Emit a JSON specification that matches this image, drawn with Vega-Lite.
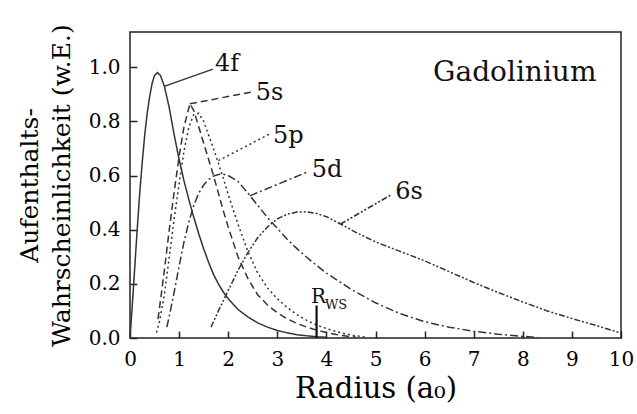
{
  "$schema": "https://vega.github.io/schema/vega-lite/v6.json",
  "width": 491,
  "height": 306,
  "autosize": {"type": "none"},
  "padding": {"left": 130, "top": 32, "right": 16, "bottom": 76},
  "background": "white",
  "config": {
    "font": "DejaVu Serif",
    "view": {"stroke": "#222", "strokeWidth": 1.5},
    "axis": {
      "domain": false, "offset": -7, "labelFlush": false,
      "tickColor": "#222", "tickWidth": 1.5, "tickSize": 7,
      "labelFont": "DejaVu Serif", "titleFont": "DejaVu Serif",
      "labelFontSize": 20, "grid": false, "titleFontWeight": "normal"
    }
  },
  "data": {"values": [
      {"s":"4f","g":"c","x":0,"y":0},{"s":"4f","g":"c","x":0.05,"y":0.13},{"s":"4f","g":"c","x":0.1,"y":0.27},{"s":"4f","g":"c","x":0.15,"y":0.41},{"s":"4f","g":"c","x":0.2,"y":0.54},{"s":"4f","g":"c","x":0.25,"y":0.65},{"s":"4f","g":"c","x":0.3,"y":0.75},{"s":"4f","g":"c","x":0.35,"y":0.83},{"s":"4f","g":"c","x":0.4,"y":0.89},{"s":"4f","g":"c","x":0.45,"y":0.94},{"s":"4f","g":"c","x":0.5,"y":0.97},{"s":"4f","g":"c","x":0.56,"y":0.98},{"s":"4f","g":"c","x":0.62,"y":0.97},{"s":"4f","g":"c","x":0.7,"y":0.93},{"s":"4f","g":"c","x":0.8,"y":0.85},{"s":"4f","g":"c","x":0.9,"y":0.75},{"s":"4f","g":"c","x":1.0,"y":0.66},{"s":"4f","g":"c","x":1.1,"y":0.58},{"s":"4f","g":"c","x":1.2,"y":0.51},{"s":"4f","g":"c","x":1.3,"y":0.445},{"s":"4f","g":"c","x":1.4,"y":0.385},{"s":"4f","g":"c","x":1.5,"y":0.33},{"s":"4f","g":"c","x":1.6,"y":0.28},{"s":"4f","g":"c","x":1.7,"y":0.235},{"s":"4f","g":"c","x":1.8,"y":0.2},{"s":"4f","g":"c","x":1.9,"y":0.17},{"s":"4f","g":"c","x":2.0,"y":0.145},{"s":"4f","g":"c","x":2.2,"y":0.105},{"s":"4f","g":"c","x":2.4,"y":0.078},{"s":"4f","g":"c","x":2.6,"y":0.056},{"s":"4f","g":"c","x":2.8,"y":0.04},{"s":"4f","g":"c","x":3.0,"y":0.028},{"s":"4f","g":"c","x":3.2,"y":0.019},{"s":"4f","g":"c","x":3.4,"y":0.012},{"s":"4f","g":"c","x":3.6,"y":0.008},{"s":"4f","g":"c","x":3.8,"y":0.005},{"s":"4f","g":"c","x":4.0,"y":0.003},
      {"s":"5s","g":"c","x":0.57,"y":0.07},{"s":"5s","g":"c","x":0.6,"y":0.11},{"s":"5s","g":"c","x":0.7,"y":0.25},{"s":"5s","g":"c","x":0.8,"y":0.4},{"s":"5s","g":"c","x":0.9,"y":0.54},{"s":"5s","g":"c","x":1.0,"y":0.67},{"s":"5s","g":"c","x":1.1,"y":0.78},{"s":"5s","g":"c","x":1.22,"y":0.865},{"s":"5s","g":"c","x":1.3,"y":0.84},{"s":"5s","g":"c","x":1.4,"y":0.78},{"s":"5s","g":"c","x":1.5,"y":0.72},{"s":"5s","g":"c","x":1.6,"y":0.66},{"s":"5s","g":"c","x":1.7,"y":0.6},{"s":"5s","g":"c","x":1.8,"y":0.535},{"s":"5s","g":"c","x":1.9,"y":0.47},{"s":"5s","g":"c","x":2.0,"y":0.41},{"s":"5s","g":"c","x":2.2,"y":0.3},{"s":"5s","g":"c","x":2.4,"y":0.22},{"s":"5s","g":"c","x":2.6,"y":0.16},{"s":"5s","g":"c","x":2.8,"y":0.122},{"s":"5s","g":"c","x":3.0,"y":0.093},{"s":"5s","g":"c","x":3.2,"y":0.071},{"s":"5s","g":"c","x":3.4,"y":0.054},{"s":"5s","g":"c","x":3.6,"y":0.04},{"s":"5s","g":"c","x":3.8,"y":0.029},{"s":"5s","g":"c","x":4.0,"y":0.02},{"s":"5s","g":"c","x":4.2,"y":0.013},{"s":"5s","g":"c","x":4.4,"y":0.007},{"s":"5s","g":"c","x":4.6,"y":0.003},
      {"s":"5p","g":"c","x":0.54,"y":0.02},{"s":"5p","g":"c","x":0.6,"y":0.06},{"s":"5p","g":"c","x":0.7,"y":0.16},{"s":"5p","g":"c","x":0.8,"y":0.3},{"s":"5p","g":"c","x":0.9,"y":0.44},{"s":"5p","g":"c","x":1.0,"y":0.57},{"s":"5p","g":"c","x":1.1,"y":0.69},{"s":"5p","g":"c","x":1.2,"y":0.78},{"s":"5p","g":"c","x":1.3,"y":0.825},{"s":"5p","g":"c","x":1.4,"y":0.83},{"s":"5p","g":"c","x":1.5,"y":0.8},{"s":"5p","g":"c","x":1.6,"y":0.75},{"s":"5p","g":"c","x":1.7,"y":0.7},{"s":"5p","g":"c","x":1.8,"y":0.645},{"s":"5p","g":"c","x":1.9,"y":0.59},{"s":"5p","g":"c","x":2.0,"y":0.53},{"s":"5p","g":"c","x":2.2,"y":0.42},{"s":"5p","g":"c","x":2.4,"y":0.32},{"s":"5p","g":"c","x":2.6,"y":0.24},{"s":"5p","g":"c","x":2.8,"y":0.185},{"s":"5p","g":"c","x":3.0,"y":0.145},{"s":"5p","g":"c","x":3.2,"y":0.113},{"s":"5p","g":"c","x":3.4,"y":0.086},{"s":"5p","g":"c","x":3.6,"y":0.065},{"s":"5p","g":"c","x":3.8,"y":0.048},{"s":"5p","g":"c","x":4.0,"y":0.035},{"s":"5p","g":"c","x":4.2,"y":0.024},{"s":"5p","g":"c","x":4.4,"y":0.015},{"s":"5p","g":"c","x":4.6,"y":0.008},{"s":"5p","g":"c","x":4.8,"y":0.003},
      {"s":"5d","g":"c","x":0.75,"y":0.04},{"s":"5d","g":"c","x":0.8,"y":0.08},{"s":"5d","g":"c","x":0.9,"y":0.17},{"s":"5d","g":"c","x":1.0,"y":0.265},{"s":"5d","g":"c","x":1.1,"y":0.355},{"s":"5d","g":"c","x":1.2,"y":0.43},{"s":"5d","g":"c","x":1.3,"y":0.49},{"s":"5d","g":"c","x":1.4,"y":0.535},{"s":"5d","g":"c","x":1.5,"y":0.565},{"s":"5d","g":"c","x":1.6,"y":0.585},{"s":"5d","g":"c","x":1.7,"y":0.598},{"s":"5d","g":"c","x":1.8,"y":0.604},{"s":"5d","g":"c","x":1.9,"y":0.605},{"s":"5d","g":"c","x":2.0,"y":0.6},{"s":"5d","g":"c","x":2.2,"y":0.578},{"s":"5d","g":"c","x":2.4,"y":0.535},{"s":"5d","g":"c","x":2.6,"y":0.49},{"s":"5d","g":"c","x":2.8,"y":0.445},{"s":"5d","g":"c","x":3.0,"y":0.405},{"s":"5d","g":"c","x":3.2,"y":0.365},{"s":"5d","g":"c","x":3.4,"y":0.33},{"s":"5d","g":"c","x":3.6,"y":0.298},{"s":"5d","g":"c","x":3.8,"y":0.268},{"s":"5d","g":"c","x":4.0,"y":0.24},{"s":"5d","g":"c","x":4.5,"y":0.18},{"s":"5d","g":"c","x":5.0,"y":0.13},{"s":"5d","g":"c","x":5.5,"y":0.09},{"s":"5d","g":"c","x":6.0,"y":0.06},{"s":"5d","g":"c","x":6.5,"y":0.04},{"s":"5d","g":"c","x":7.0,"y":0.025},{"s":"5d","g":"c","x":7.5,"y":0.014},{"s":"5d","g":"c","x":8.0,"y":0.006},{"s":"5d","g":"c","x":8.3,"y":0.002},
      {"s":"6s","g":"c","x":1.65,"y":0.04},{"s":"6s","g":"c","x":1.8,"y":0.1},{"s":"6s","g":"c","x":2.0,"y":0.175},{"s":"6s","g":"c","x":2.2,"y":0.25},{"s":"6s","g":"c","x":2.4,"y":0.315},{"s":"6s","g":"c","x":2.6,"y":0.37},{"s":"6s","g":"c","x":2.8,"y":0.41},{"s":"6s","g":"c","x":3.0,"y":0.44},{"s":"6s","g":"c","x":3.2,"y":0.457},{"s":"6s","g":"c","x":3.4,"y":0.465},{"s":"6s","g":"c","x":3.6,"y":0.466},{"s":"6s","g":"c","x":3.8,"y":0.46},{"s":"6s","g":"c","x":4.0,"y":0.448},{"s":"6s","g":"c","x":4.3,"y":0.42},{"s":"6s","g":"c","x":4.6,"y":0.39},{"s":"6s","g":"c","x":5.0,"y":0.355},{"s":"6s","g":"c","x":5.5,"y":0.32},{"s":"6s","g":"c","x":6.0,"y":0.285},{"s":"6s","g":"c","x":6.5,"y":0.245},{"s":"6s","g":"c","x":7.0,"y":0.205},{"s":"6s","g":"c","x":7.5,"y":0.168},{"s":"6s","g":"c","x":8.0,"y":0.133},{"s":"6s","g":"c","x":8.5,"y":0.1},{"s":"6s","g":"c","x":9.0,"y":0.072},{"s":"6s","g":"c","x":9.5,"y":0.046},{"s":"6s","g":"c","x":10.0,"y":0.018},
      {"s":"4f","g":"l","x":0.71,"y":0.93},{"s":"4f","g":"l","x":1.69,"y":0.993},
      {"s":"5s","g":"l","x":1.22,"y":0.865},{"s":"5s","g":"l","x":2.53,"y":0.91},
      {"s":"5p","g":"l","x":1.8,"y":0.655},{"s":"5p","g":"l","x":2.86,"y":0.755},
      {"s":"5d","g":"l","x":2.44,"y":0.525},{"s":"5d","g":"l","x":3.64,"y":0.615},
      {"s":"6s","g":"l","x":4.28,"y":0.42},{"s":"6s","g":"l","x":5.33,"y":0.53},
      {"s":"lab","t":"4f","x":1.73,"y":1.01},
      {"s":"lab","t":"5s","x":2.56,"y":0.905},
      {"s":"lab","t":"5p","x":2.91,"y":0.745},
      {"s":"lab","t":"5d","x":3.7,"y":0.62},
      {"s":"lab","t":"6s","x":5.4,"y":0.54},
      {"s":"rws","x":3.8,"y":0,"y1":0.12},
      {"s":"r","t":"R","x":3.84,"y":0.13},
      {"s":"ws","t":"WS","x":3.97,"y":0.108},
      {"s":"name","t":"Gadolinium","x":9.5,"y":0.98}
  ]},
  "layer": [
    {
      "transform": [{"filter": {"field": "s", "equal": "4f"}}],
      "mark": {"type": "line", "strokeWidth": 1.5, "color": "#333"},
      "encoding": {
        "x": {"field": "x", "type": "quantitative", "scale": {"domain": [0, 10], "nice": false},
              "axis": {"orient": "bottom", "values": [0,1,2,3,4,5,6,7,8,9,10], "labelPadding": 11, "title": "Radius (a₀)", "titleFontSize": 29, "titlePadding": 5}},
        "y": {"field": "y", "type": "quantitative", "scale": {"domain": [0, 1.13], "nice": false, "zero": false},
              "axis": {"orient": "left", "values": [0,0.2,0.4,0.6,0.8,1.0], "format": ".1f", "labelPadding": 10, "title": ["Aufenthalts-", "Wahrscheinlichkeit (w.E.)"], "titleFontSize": 25, "titleLineHeight": 32, "titlePadding": 14}},
        "detail": {"field": "g"}
      }
    },
    {
      "transform": [{"filter": {"field": "s", "equal": "5s"}}],
      "mark": {"type": "line", "strokeWidth": 1.5, "color": "#333", "strokeDash": [7, 4]},
      "encoding": {
        "x": {"field": "x", "type": "quantitative"},
        "y": {"field": "y", "type": "quantitative"},
        "detail": {"field": "g"}
      }
    },
    {
      "transform": [{"filter": {"field": "s", "equal": "5p"}}],
      "mark": {"type": "line", "strokeWidth": 1.5, "color": "#333", "strokeDash": [2, 3]},
      "encoding": {
        "x": {"field": "x", "type": "quantitative"},
        "y": {"field": "y", "type": "quantitative"},
        "detail": {"field": "g"}
      }
    },
    {
      "transform": [{"filter": {"field": "s", "equal": "5d"}}],
      "mark": {"type": "line", "strokeWidth": 1.5, "color": "#333", "strokeDash": [8, 3, 2, 3]},
      "encoding": {
        "x": {"field": "x", "type": "quantitative"},
        "y": {"field": "y", "type": "quantitative"},
        "detail": {"field": "g"}
      }
    },
    {
      "transform": [{"filter": {"field": "s", "equal": "6s"}}],
      "mark": {"type": "line", "strokeWidth": 1.5, "color": "#333", "strokeDash": [6, 2, 2, 2, 2, 2]},
      "encoding": {
        "x": {"field": "x", "type": "quantitative"},
        "y": {"field": "y", "type": "quantitative"},
        "detail": {"field": "g"}
      }
    },
    {
      "transform": [{"filter": {"field": "s", "equal": "lab"}}],
      "mark": {"type": "text", "align": "left", "baseline": "middle", "fontSize": 24, "color": "#111"},
      "encoding": {
        "x": {"field": "x", "type": "quantitative"},
        "y": {"field": "y", "type": "quantitative"},
        "text": {"field": "t"}
      }
    },
    {
      "transform": [{"filter": {"field": "s", "equal": "rws"}}],
      "mark": {"type": "rule", "strokeWidth": 2.2, "color": "#111"},
      "encoding": {
        "x": {"field": "x", "type": "quantitative"},
        "y": {"field": "y", "type": "quantitative"},
        "y2": {"field": "y1"}
      }
    },
    {
      "transform": [{"filter": {"field": "s", "equal": "r"}}],
      "mark": {"type": "text", "align": "center", "baseline": "alphabetic", "fontSize": 20, "color": "#111"},
      "encoding": {
        "x": {"field": "x", "type": "quantitative"},
        "y": {"field": "y", "type": "quantitative"},
        "text": {"field": "t"}
      }
    },
    {
      "transform": [{"filter": {"field": "s", "equal": "ws"}}],
      "mark": {"type": "text", "align": "left", "baseline": "alphabetic", "fontSize": 13, "color": "#111"},
      "encoding": {
        "x": {"field": "x", "type": "quantitative"},
        "y": {"field": "y", "type": "quantitative"},
        "text": {"field": "t"}
      }
    },
    {
      "transform": [{"filter": {"field": "s", "equal": "name"}}],
      "mark": {"type": "text", "align": "right", "baseline": "middle", "fontSize": 28, "color": "#111"},
      "encoding": {
        "x": {"field": "x", "type": "quantitative"},
        "y": {"field": "y", "type": "quantitative"},
        "text": {"field": "t"}
      }
    }
  ]
}
